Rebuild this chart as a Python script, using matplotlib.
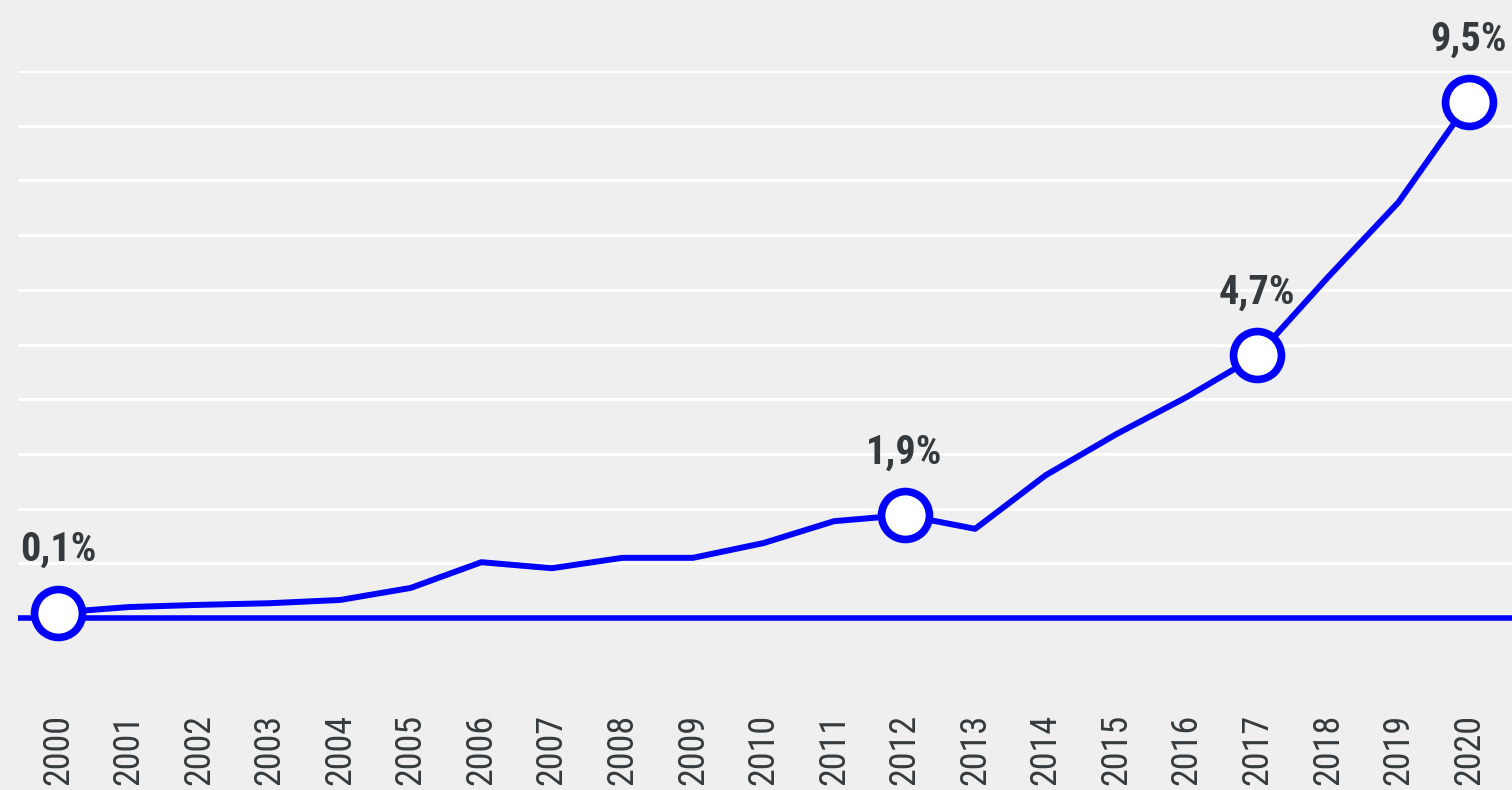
import matplotlib
matplotlib.use("Agg")
import matplotlib.pyplot as plt

# share values (percent)
years = list(range(2000, 2021))
values = [0.1, 0.2, 0.24, 0.27, 0.33, 0.55, 1.02, 0.91, 1.1, 1.1, 1.37,
          1.77, 1.88, 1.63, 2.61, 3.36, 4.04, 4.8, 6.23, 7.6, 9.43]
marked_years = [2000, 2012, 2017, 2020]
marked_labels = ["0,1%", "1,9%", "4,7%", "9,5%"]

bg = "#efefef"
blue = "#0000ff"
txt = "#343a3d"
fonts = ["Roboto Condensed", "DejaVu Sans"]

W, H = 1512, 790
fig = plt.figure(figsize=(W / 100, H / 100), dpi=100, facecolor=bg)
ax = fig.add_axes([18 / W, (H - 618) / H, (W - 18) / W, (618 - 71) / H])
ax.set_facecolor(bg)

x0, step = 58, 70.55
ax.set_xlim(2000 - (x0 - 18) / step, 2020 + (W - 1469) / step)
ax.set_ylim(0, 10)

for v in range(1, 11):
    ax.axhline(v, color="white", lw=2.2, zorder=1, solid_capstyle="butt")
ax.axhline(0, color=blue, lw=4, zorder=2, clip_on=False, solid_capstyle="butt")

ax.plot(years, values, color=blue, lw=4.3, zorder=3, clip_on=False)
mv = [values[years.index(y)] for y in marked_years]
ax.plot(marked_years, mv, "o", ms=34.5, mfc="white", mec=blue, mew=5.5,
        zorder=4, clip_on=False)

for y, v, lab in zip(marked_years, mv, marked_labels):
    ax.annotate(lab, (y, v), xytext=(0, 37), textcoords="offset points",
                ha="center", va="baseline", fontsize=29, fontweight="bold",
                color=txt, family=fonts, zorder=5, annotation_clip=False)

ax.set_xticks(years)
ax.set_xticklabels([str(y) for y in years], rotation=90, fontsize=26,
                   color=txt, family=fonts)
ax.tick_params(axis="x", length=0, pad=69)
ax.set_yticks([])
for s in ax.spines.values():
    s.set_visible(False)

fig.savefig("out.png", dpi=100, facecolor=bg)
